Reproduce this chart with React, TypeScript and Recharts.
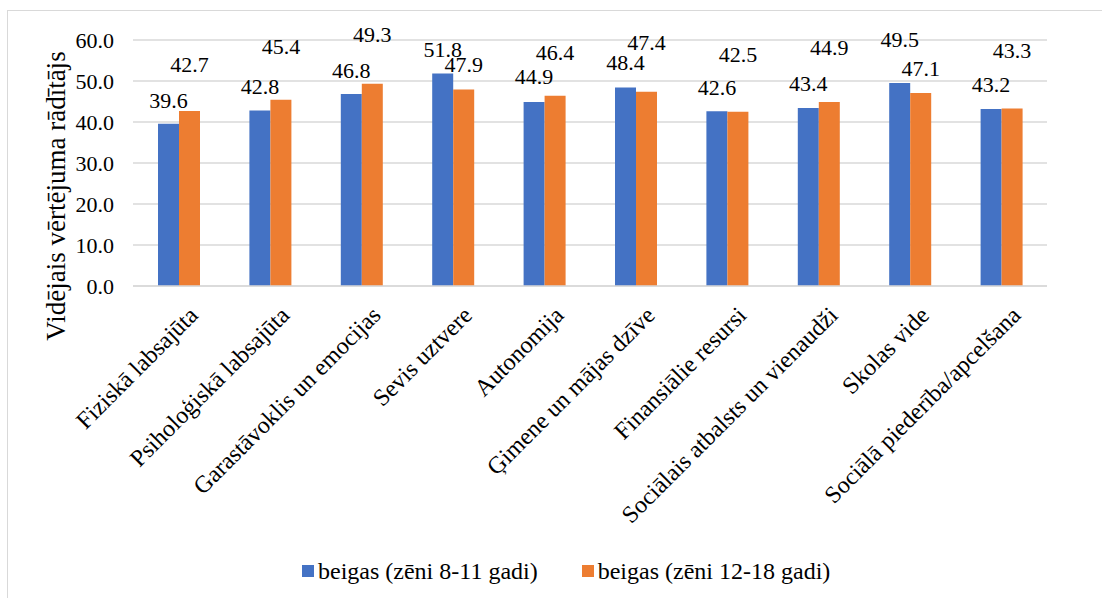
import React from 'react'
import { BarChart, Bar, XAxis, YAxis, CartesianGrid, Legend } from 'recharts'

const categories = [
    'Fiziskā labsajūta',
    'Psiholoģiskā labsajūta',
    'Garastāvoklis un emocijas',
    'Sevis uztvere',
    'Autonomija',
    'Ģimene un mājas dzīve',
    'Finansiālie resursi',
    'Sociālais atbalsts un vienaudži',
    'Skolas vide',
    'Sociālā piederība/apcelšana'
]
const boys811 = [39.6, 42.8, 46.8, 51.8, 44.9, 48.4, 42.6, 43.4, 49.5, 43.2]
const boys1218 = [42.7, 45.4, 49.3, 47.9, 46.4, 47.4, 42.5, 44.9, 47.1, 43.3]
const yTicks = [0, 10, 20, 30, 40, 50, 60]
const seriesNames = ['beigas (zēni 8-11 gadi)', 'beigas (zēni 12-18 gadi)']
const yTitle = 'Vidējais vērtējuma rādītājs'

// how far above the bar top each value label sits (labels were hand-placed in the original)
const blueLift = [23, 24, 24, 24, 25, 25, 24, 25, 44, 24]
const orangeLift = [46, 53, 49, 25, 43, 49, 57, 54, 24, 58]

const BLUE = '#4472C4'
const ORANGE = '#ED7D31'
const FONT = "'Liberation Serif', 'DejaVu Serif', serif"

const data = categories.map((name, i) => ({ name, a: boys811[i], b: boys1218[i] }))

const makeLabel = (lift: number[]) => (props: any) => {
    const { x, y, width, value, index } = props
    return (
        <text x={x + width / 2} y={y - lift[index]} textAnchor="middle" dominantBaseline="central" style={{ fontFamily: FONT, fontSize: 22 }} fill="#000">
            {Number(value).toFixed(1)}
        </text>
    )
}

const CategoryTick = (props: any) => {
    const { x, y, payload } = props
    const ax = x + 15
    const ay = y + 25
    return (
        <text x={ax} y={ay} textAnchor="end" dominantBaseline="central" transform={`rotate(-45, ${ax}, ${ay})`} style={{ fontFamily: FONT, fontSize: 24 }} fill="#000">
            {payload.value}
        </text>
    )
}

const ValueTick = (props: any) => {
    const { y, payload } = props
    return (
        <text x={114} y={y} textAnchor="end" dominantBaseline="central" style={{ fontFamily: FONT, fontSize: 22 }} fill="#000">
            {Number(payload.value).toFixed(1)}
        </text>
    )
}

const YTitle = () => (
    <text x={56} y={196} textAnchor="middle" dominantBaseline="central" transform="rotate(-90, 56, 196)" style={{ fontFamily: FONT, fontSize: 27 }} fill="#000">
        {yTitle}
    </text>
)

const LegendBox = () => (
    <div style={{ height: 30, display: 'flex', alignItems: 'center', paddingLeft: 302, fontFamily: FONT, fontSize: 24, color: '#000' }}>
        <span style={{ width: 12, height: 12, background: BLUE, marginRight: 4 }} />
        <span style={{ marginRight: 44 }}>{seriesNames[0]}</span>
        <span style={{ width: 12, height: 12, background: ORANGE, marginRight: 4 }} />
        <span>{seriesNames[1]}</span>
    </div>
)

export default function App() {
    return (
        <div style={{ position: 'absolute', left: 0, top: 0, width: 1102, height: 598, background: '#fff', overflow: 'hidden' }}>
            <div style={{ position: 'absolute', left: 7, top: 10, width: 1110, height: 600, border: '1px solid #D9D9D9' }} />
            <BarChart width={1102} height={598} data={data} margin={{ top: 40, right: 55, left: 0, bottom: 12 }} barSize={21} barGap={0}>
                <CartesianGrid vertical={false} stroke="#D9D9D9" strokeWidth={1.5} />
                <XAxis dataKey="name" interval={0} height={270} tickLine={false} tickSize={0} tickMargin={0} axisLine={{ stroke: '#D9D9D9', strokeWidth: 1.5 }} tick={<CategoryTick />} />
                <YAxis width={133} domain={[0, 60]} ticks={yTicks} axisLine={false} tickLine={false} tick={<ValueTick />} label={{ content: () => <YTitle /> }} />
                <Legend verticalAlign="bottom" height={30} wrapperStyle={{ left: 0, width: 1102 }} content={<LegendBox />} />
                <Bar dataKey="a" name={seriesNames[0]} fill={BLUE} isAnimationActive={false} label={makeLabel(blueLift)} />
                <Bar dataKey="b" name={seriesNames[1]} fill={ORANGE} isAnimationActive={false} label={makeLabel(orangeLift)} />
            </BarChart>
        </div>
    )
}
